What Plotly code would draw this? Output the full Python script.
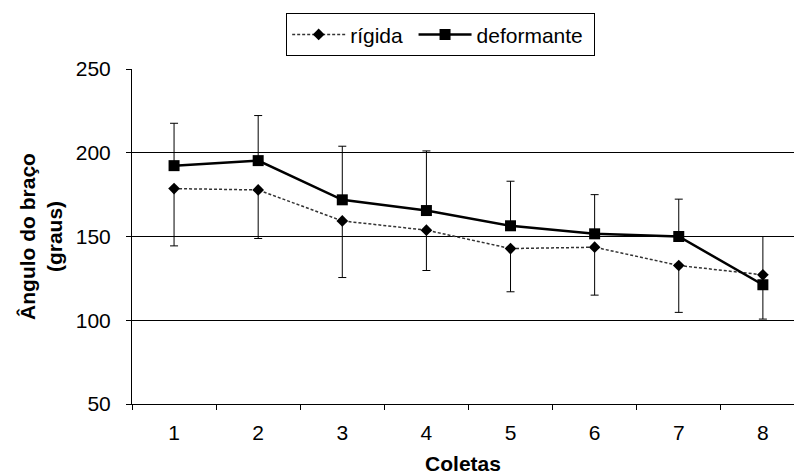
import plotly.graph_objects as go

coletas = ["1", "2", "3", "4", "5", "6", "7", "8"]
rigida = [178.6, 177.8, 159.3, 153.8, 142.8, 143.6, 132.7, 127.1]
rigida_err_minus = [34.2, 29.0, 33.8, 24.1, 25.8, 28.6, 28.0, 26.4]
deformante = [192.3, 195.3, 171.9, 165.5, 156.4, 151.6, 150.0, 121.2]
deformante_err_plus = [25.3, 26.9, 32.0, 35.6, 26.6, 23.4, 22.3, 28.8]
y_ticks = [50, 100, 150, 200, 250]

FONT = "Liberation Sans, Arial, sans-serif"

fig = go.Figure()
fig.add_trace(go.Scatter(
    x=coletas, y=rigida, name="rígida\u00a0", mode="lines+markers",
    line=dict(color="#333333", width=1.5, dash="3px,2px"),
    marker=dict(symbol="diamond", size=9, color="black"),
    error_y=dict(type="data", symmetric=False, array=[0] * len(rigida),
                 arrayminus=rigida_err_minus, color="black", thickness=1, width=4),
))
fig.add_trace(go.Scatter(
    x=coletas, y=deformante, name="deformante\u00a0", mode="lines+markers",
    line=dict(color="black", width=2.5),
    marker=dict(symbol="square", size=11, color="black"),
    error_y=dict(type="data", symmetric=False, array=deformante_err_plus,
                 arrayminus=[0] * len(deformante), color="black", thickness=1, width=4),
))

fig.update_layout(
    width=794, height=475,
    margin=dict(l=132, r=0, t=69, b=71),
    paper_bgcolor="white", plot_bgcolor="white",
    font=dict(family=FONT, size=21, color="black"),
    showlegend=True,
    legend=dict(
        orientation="h", xref="container", yref="container",
        x=0.555, xanchor="center", y=0.972, yanchor="top",
        bordercolor="black", borderwidth=1, bgcolor="white",
        font=dict(size=21), itemwidth=53, tracegroupgap=0,
    ),
)
fig.update_xaxes(
    type="category", range=[-0.5, 7.37], tickson="boundaries",
    ticks="outside", ticklen=5, tickcolor="black", showline=True,
    linecolor="black", linewidth=1, showgrid=False, zeroline=False,
    tickfont=dict(size=21), ticklabelstandoff=10,
    title=dict(text="<b>Coletas</b>", font=dict(size=21), standoff=17),
    automargin=False,
)
fig.update_yaxes(
    range=[50, 250], tickvals=y_ticks, ticks="outside", ticklen=5,
    tickcolor="black", showline=True, linecolor="black", linewidth=1,
    showgrid=True, gridcolor="black", gridwidth=1, zeroline=False,
    tickfont=dict(size=21), ticklabelstandoff=11,
    title=dict(text="<b>Ângulo do braço<br>(graus)</b>", font=dict(size=21), standoff=7),
    automargin=False,
)

fig.write_html("out.html", config={"displayModeBar": False},
               post_script="document.body.style.margin='0';")
